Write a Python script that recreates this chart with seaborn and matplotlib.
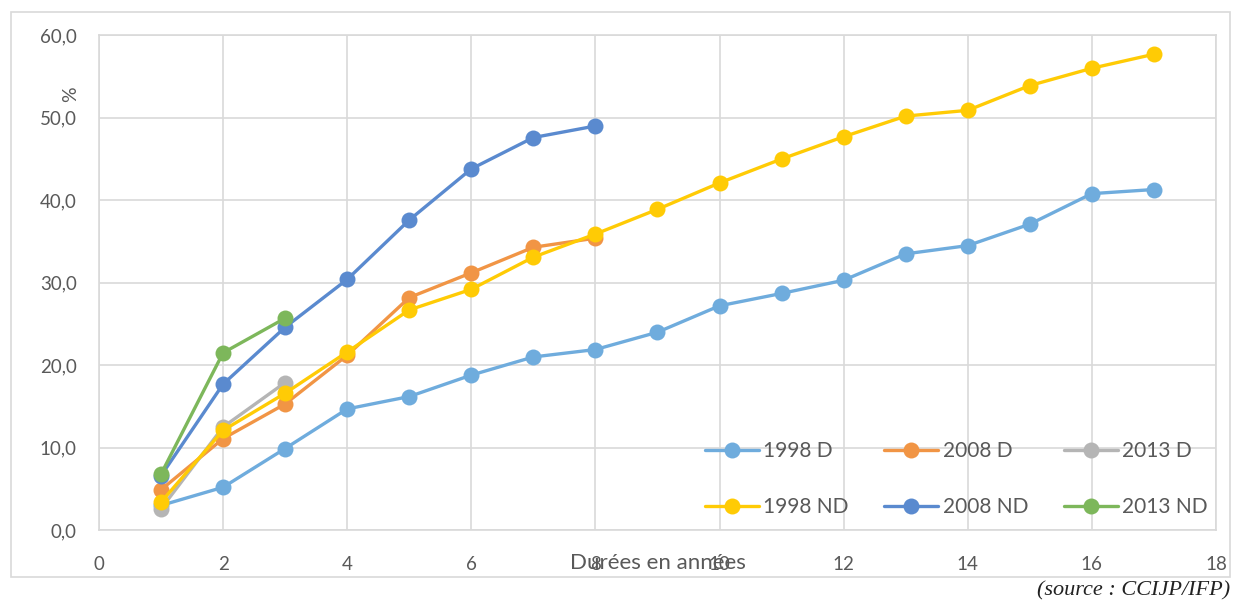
import seaborn as sns
import numpy as np
import pandas as pd
import matplotlib.pyplot as plt
import matplotlib.ticker as mtick
from matplotlib.patches import Rectangle

# durées (années) and % per cohort
years_1998 = list(range(1, 18))
d_1998 = [3.0, 5.2, 9.9, 14.7, 16.2, 18.8, 21.0, 21.9, 24.0, 27.2, 28.7, 30.3, 33.5, 34.5, 37.1, 40.8, 41.3]
nd_1998 = [3.4, 12.1, 16.6, 21.6, 26.7, 29.2, 33.1, 35.9, 38.9, 42.1, 45.0, 47.7, 50.2, 50.9, 53.9, 56.0, 57.7]
years_2008 = list(range(1, 9))
d_2008 = [4.9, 11.1, 15.3, 21.2, 28.2, 31.2, 34.3, 35.4]
nd_2008 = [6.6, 17.7, 24.6, 30.4, 37.6, 43.8, 47.6, 49.0]
years_2013 = [1, 2, 3]
d_2013 = [2.6, 12.5, 17.9]
nd_2013 = [6.8, 21.5, 25.7]

series = ["1998 D", "2008 D", "2013 D", "1998 ND", "2008 ND", "2013 ND"]
colors = ["#6FACDD", "#F19545", "#B5B5B5", "#FFCB05", "#5A8ACF", "#7DB75B"]

rows = []
for name, xs, ys in [("1998 D", years_1998, d_1998), ("2008 D", years_2008, d_2008),
                     ("2013 D", years_2013, d_2013), ("1998 ND", years_1998, nd_1998),
                     ("2008 ND", years_2008, nd_2008), ("2013 ND", years_2013, nd_2013)]:
    for x, y in zip(xs, ys):
        rows.append((name, x, y))
df = pd.DataFrame(rows, columns=["serie", "duree", "pct"])

sns.set_style("white")
plt.rcParams['font.family'] = ['Lato', 'DejaVu Sans']
grey = "#595959"

fig = plt.figure(figsize=(12.37, 6.08), dpi=100)
ax = fig.add_axes([0.080, 0.128, 0.903, 0.814])
sns.lineplot(data=df, x="duree", y="pct", hue="serie", hue_order=series,
             palette=colors, marker="o", markersize=11.5, markeredgewidth=0,
             linewidth=2.4, ax=ax, sort=False)

ax.set_xlim(0, 18)
ax.set_ylim(0, 60)
ax.set_xticks(range(0, 19, 2))
ax.set_yticks(range(0, 61, 10))
ax.yaxis.set_major_formatter(mtick.FuncFormatter(lambda v, p: f"{v:.1f}".replace(".", ",")))
ax.grid(True, color="#D9D9D9", linewidth=1.2)
for s in ax.spines.values():
    s.set_color("#D9D9D9")
    s.set_linewidth(1.2)
ax.tick_params(axis="both", labelsize=13.5, colors=grey, length=0)
ax.tick_params(axis="y", pad=16)
ax.tick_params(axis="x", pad=18.5)

ax.set_xlabel("Durées en années", fontsize=16, color=grey)
ax.xaxis.set_label_coords(0.5, -0.0667)
ax.xaxis.label.set_va("center")
ax.set_ylabel("%", fontsize=14, color=grey)
ax.yaxis.set_label_coords(-0.025, 0.881)
ax.yaxis.label.set_va("center")

handles, labels = ax.get_legend_handles_labels()
order = [0, 3, 1, 4, 2, 5]
ax.legend([handles[i] for i in order], [labels[i] for i in order], ncol=3,
          frameon=False, fontsize=15, labelcolor=grey, handlelength=2.6,
          handletextpad=0.2, columnspacing=1.7, labelspacing=1.73,
          loc="upper left", bbox_to_anchor=(705 / 1237, 1 - 441 / 608),
          bbox_transform=fig.transFigure, borderpad=0, borderaxespad=0)

fig.patches.append(Rectangle((11 / 1237, 1 - 577 / 608), 1219 / 1237, 565 / 608,
                             transform=fig.transFigure, fill=False,
                             edgecolor="#D9D9D9", linewidth=1.2))
fig.text(1230 / 1237, 1 - 591 / 608, "(source : CCIJP/IFP)", ha="right", va="center",
         fontsize=16, style="italic", family=["Liberation Serif"], color="#222222")

fig.savefig("out.png", dpi=100)
